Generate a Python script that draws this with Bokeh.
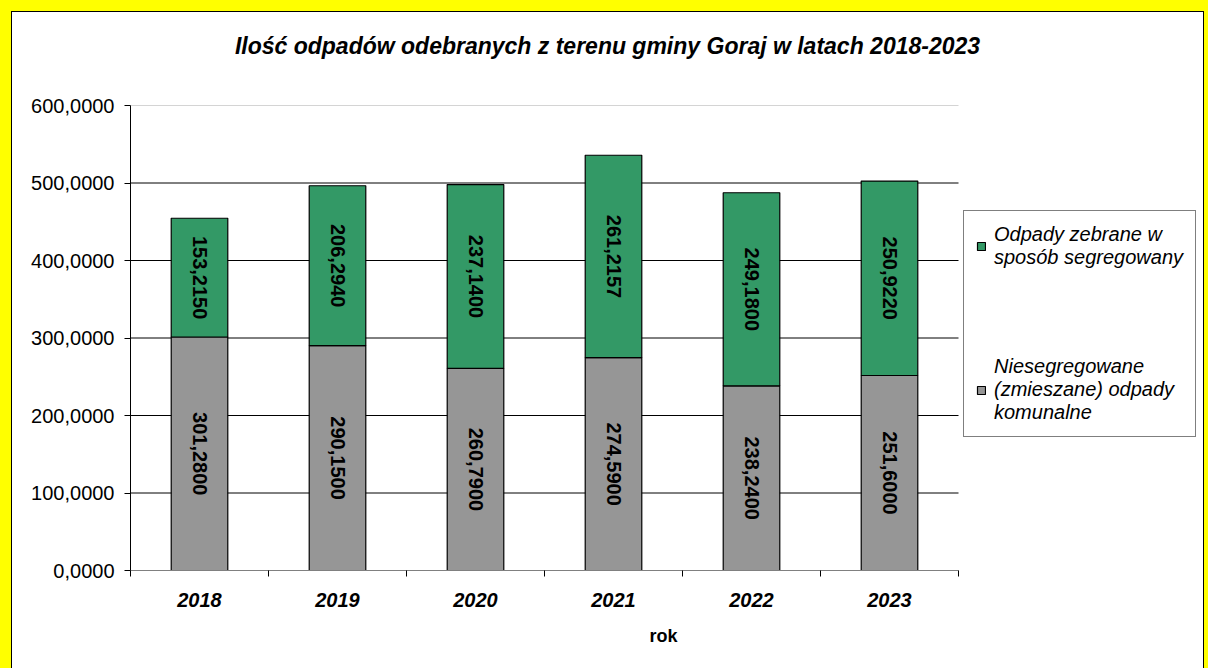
import numpy as np
from bokeh.plotting import figure
from bokeh.models import (ColumnDataSource, FixedTicker, Legend, LegendItem, Range1d, Label)
from bokeh.layouts import column
from bokeh.embed import file_html
from bokeh.resources import INLINE
from bokeh.core.properties import value

years = ["2018", "2019", "2020", "2021", "2022", "2023"]
mixed = [301.28, 290.15, 260.79, 274.59, 238.24, 251.60]
segregated = [153.215, 206.294, 237.14, 261.2157, 249.18, 250.922]
y_ticks = [0, 100, 200, 300, 400, 500, 600]
title_text = "Ilość odpadów odebranych z terenu gminy Goraj w latach 2018-2023"
x_label = "rok"
legend_labels = ["Odpady zebrane w\nsposób segregowany",
                 "Niesegregowane\n(zmieszane) odpady\nkomunalne"]

FONT = "Liberation Sans"
GRAY = "#969696"
GREEN = "#339966"

# page geometry (pixels)
PAD_L, PAD_T, PAD_R = 12, 12, 5
W, H = 1208 - PAD_L - PAD_R, 668 - PAD_T
AXIS_L, AXIS_R, AXIS_T, AXIS_B = 130, 958, 105, 570   # the 0..6 x 0..600 plotting box
FRAME_R, FRAME_T = 1196, 20                            # frame extended to hold title and legend

Y_MAX = y_ticks[-1]
N = len(years)
x_end = N * (FRAME_R - AXIS_L) / (AXIS_R - AXIS_L)
y_end = Y_MAX * (AXIS_B - FRAME_T) / (AXIS_B - AXIS_T)


def fmt(v):
    return f"{v:.4f}".replace(".", ",")


xs = [i + 0.5 for i in range(N)]
tops = [m + s for m, s in zip(mixed, segregated)]
src = ColumnDataSource(dict(
    x=xs, mixed=mixed, seg=segregated, top=tops,
    mid1=[m / 2 for m in mixed],
    mid2=[m + s / 2 for m, s in zip(mixed, segregated)],
    lab1=[fmt(m) for m in mixed],
    lab2=[fmt(s) for s in segregated],
))

p = figure(width=W, height=H, output_backend="svg", toolbar_location=None,
           x_range=Range1d(0, x_end), y_range=Range1d(0, y_end),
           min_border_left=AXIS_L - PAD_L, min_border_right=W - (FRAME_R - PAD_L),
           min_border_top=FRAME_T - PAD_T, min_border_bottom=H - (AXIS_B - PAD_T),
           background_fill_color="white", border_fill_color="white")
p.outline_line_color = None
p.xgrid.visible = False
p.ygrid.visible = False

# horizontal grid lines, limited to the category span
grid_y = y_ticks[1:]
grid_src = ColumnDataSource(dict(
    y=grid_y, x0=[0] * len(grid_y), x1=[N] * len(grid_y),
    color=["black"] * (len(grid_y) - 1) + ["#d4d4d4"],
))
p.segment(x0="x0", y0="y", x1="x1", y1="y", source=grid_src, line_color="color", line_width=1)

r_mixed = p.vbar(x="x", bottom=0, top="mixed", width=0.41, source=src,
                 fill_color=GRAY, line_color="black", line_width=1.2)
r_seg = p.vbar(x="x", bottom="mixed", top="top", width=0.41, source=src,
               fill_color=GREEN, line_color="black", line_width=1.2)

for ycol, tcol in (("mid1", "lab1"), ("mid2", "lab2")):
    p.text(x="x", y=ycol, text=tcol, source=src, angle=-np.pi / 2,
           text_align="center", text_baseline="middle",
           text_font=value(FONT), text_font_style="bold", text_font_size="20px",
           text_color="black")

# axes
p.xaxis.bounds = (0, N)
p.xaxis.ticker = FixedTicker(ticks=xs, minor_ticks=list(range(N + 1)))
p.xaxis.major_label_overrides = {x: y for x, y in zip(xs, years)}
p.xaxis.major_tick_line_color = None
p.xaxis.major_tick_out = 0
p.xaxis.major_tick_in = 0
p.xaxis.minor_tick_in = 0
p.xaxis.minor_tick_out = 6
p.xaxis.minor_tick_line_color = "black"
p.xaxis.axis_line_color = "#808080"
p.xaxis.major_label_text_font = FONT
p.xaxis.major_label_text_font_style = "bold italic"
p.xaxis.major_label_text_font_size = "20px"
p.xaxis.major_label_text_color = "black"
p.xaxis.major_label_standoff = 16
p.xaxis.axis_label = x_label
p.xaxis.axis_label_text_font = FONT
p.xaxis.axis_label_text_font_style = "bold"
p.xaxis.axis_label_text_font_size = "18px"
p.xaxis.axis_label_text_color = "black"
p.xaxis.axis_label_standoff = 16

p.yaxis.bounds = (0, Y_MAX)
p.yaxis.ticker = FixedTicker(ticks=y_ticks, minor_ticks=[])
p.yaxis.major_label_overrides = {v: fmt(v) for v in y_ticks}
p.yaxis.major_tick_in = 0
p.yaxis.major_tick_out = 6
p.yaxis.axis_line_color = "black"
p.yaxis.major_tick_line_color = "black"
p.yaxis.major_label_text_font = FONT
p.yaxis.major_label_text_font_size = "20px"
p.yaxis.major_label_text_color = "black"
p.yaxis.major_label_standoff = 10

# title, centred over the whole white area
p.add_layout(Label(x=(11 + 1203) / 2 - AXIS_L, y=AXIS_B - 45, x_units="screen", y_units="screen",
                   text=title_text, text_font=FONT, text_font_style="bold italic",
                   text_font_size="23px", text_color="black",
                   text_align="center", text_baseline="middle"))

legend = Legend(items=[LegendItem(label=legend_labels[0], renderers=[r_seg]),
                       LegendItem(label=legend_labels[1], renderers=[r_mixed])],
                location=(963 - AXIS_L, AXIS_B - 437))
legend.label_text_font = FONT
legend.label_text_font_style = "italic"
legend.label_text_font_size = "20px"
legend.label_text_color = "black"
legend.label_text_line_height = 1.08
legend.border_line_color = "black"
legend.border_line_width = 1
legend.background_fill_color = "white"
legend.glyph_width = 10
legend.glyph_height = 10
legend.label_standoff = 8
legend.spacing = 86
legend.padding = 12
legend.margin = 0
p.add_layout(legend)

p.styles = {"outline": "1px solid black", "background-color": "white"}
layout = column(p, styles={"background-color": "#ffff00",
                           "padding": f"{PAD_T}px {PAD_R}px 0 {PAD_L}px"})

open("out.html", "w").write(file_html(layout, INLINE))
